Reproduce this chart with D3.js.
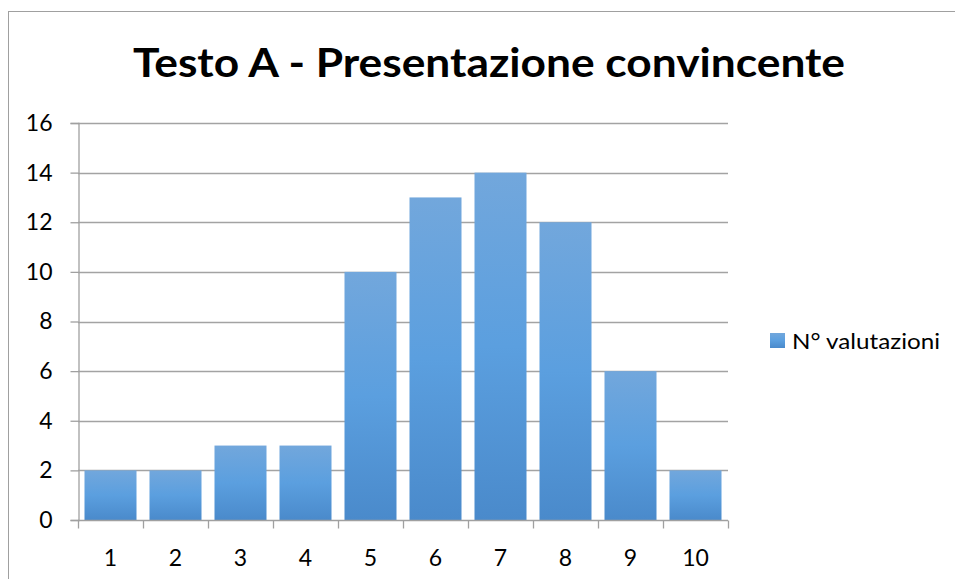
<!DOCTYPE html>
<html>
<head>
<meta charset="utf-8">
<script src="https://cdn.jsdelivr.net/npm/d3@7/dist/d3.min.js"></script>
<style>
  html, body { margin: 0; padding: 0; background: #fff; }
  svg { display: block; }
  text { font-family: Lato, "Open Sans", "Noto Sans", sans-serif; fill: #000; }
</style>
</head>
<body>
<svg id="chart" width="955" height="579"></svg>
<script>
// Rating scores and how many times each was given
const categories = ["1", "2", "3", "4", "5", "6", "7", "8", "9", "10"];
const counts = [2, 2, 3, 3, 10, 13, 14, 12, 6, 2];
const yTicks = [0, 2, 4, 6, 8, 10, 12, 14, 16];
const seriesName = "N° valutazioni";
const chartTitle = "Testo A - Presentazione convincente";

const svg = d3.select("#chart");
const W = 955, H = 579;
const plot = { left: 78, right: 728, top: 123, bottom: 520 };

// Outer chart frame
svg.append("rect")
  .attr("x", 8.5).attr("y", 11.5)
  .attr("width", W + 10).attr("height", H + 10)
  .attr("fill", "#fff").attr("stroke", "#a0a0a0").attr("stroke-width", 1);

// Bar fill gradient
const defs = svg.append("defs");
const grad = defs.append("linearGradient")
  .attr("id", "barGrad").attr("x1", 0).attr("y1", 0).attr("x2", 0).attr("y2", 1);
grad.append("stop").attr("offset", "0%").attr("stop-color", "#72a7dc");
grad.append("stop").attr("offset", "50%").attr("stop-color", "#5b9fdf");
grad.append("stop").attr("offset", "100%").attr("stop-color", "#4a8acb");

const x = d3.scaleBand()
  .domain(categories)
  .range([plot.left, plot.right])
  .paddingInner(0.2)
  .paddingOuter(0.1);

const y = d3.scaleLinear()
  .domain([0, 16])
  .range([plot.bottom, plot.top]);

// Horizontal gridlines
svg.append("g")
  .selectAll("line")
  .data(yTicks.filter(d => d > 0))
  .join("line")
  .attr("x1", plot.left).attr("x2", plot.right)
  .attr("y1", d => Math.round(y(d)) + 0.5)
  .attr("y2", d => Math.round(y(d)) + 0.5)
  .attr("stroke", "#a3a3a3").attr("stroke-width", 1.3);

// Bars
svg.append("g")
  .selectAll("rect")
  .data(counts)
  .join("rect")
  .attr("x", (d, i) => x(categories[i]))
  .attr("y", d => y(d))
  .attr("width", x.bandwidth())
  .attr("height", d => y(0) - y(d))
  .attr("fill", "url(#barGrad)");

// Y axis
const yAxis = svg.append("g")
  .attr("transform", `translate(${plot.left + 0.5},0)`)
  .call(d3.axisLeft(y).tickValues(yTicks).tickSize(8).tickPadding(18).tickFormat(d3.format("d")));
yAxis.attr("font-size", null).attr("font-family", null);
yAxis.select(".domain").attr("stroke", "#a0a0a0").attr("stroke-width", 1.3);
yAxis.selectAll(".tick line").attr("stroke", "#a0a0a0").attr("stroke-width", 1.3);
yAxis.selectAll(".tick text")
  .style("font-size", "23px").attr("fill", "#000");

// X axis: ticks at category boundaries, labels centred on bands
const xAxisG = svg.append("g").attr("transform", `translate(0,${plot.bottom + 0.5})`);
xAxisG.append("line")
  .attr("x1", plot.left).attr("x2", plot.right)
  .attr("stroke", "#a0a0a0").attr("stroke-width", 1.3);
const bounds = categories.map(c => x(c) - x.step() * x.paddingInner() / 2).concat([plot.right]);
bounds[0] = plot.left;
xAxisG.selectAll("line.tk")
  .data(bounds)
  .join("line")
  .attr("class", "tk")
  .attr("x1", d => Math.round(d) + 0.5).attr("x2", d => Math.round(d) + 0.5)
  .attr("y1", 0).attr("y2", 8)
  .attr("stroke", "#a0a0a0").attr("stroke-width", 1.3);
xAxisG.selectAll("text")
  .data(categories)
  .join("text")
  .attr("x", d => x(d) + x.bandwidth() / 2)
  .attr("y", 45)
  .attr("text-anchor", "middle")
  .style("font-size", "23px")
  .text(d => d);

// Title
svg.append("text")
  .attr("x", 133).attr("y", 77)
  .attr("font-size", 41)
  .attr("font-weight", "bold")
  .attr("textLength", 712)
  .attr("lengthAdjust", "spacingAndGlyphs")
  .text(chartTitle);

// Legend
const legend = svg.append("g").attr("transform", "translate(770,333)");
legend.append("rect")
  .attr("width", 15).attr("height", 15)
  .attr("fill", "url(#barGrad)");
legend.append("text")
  .attr("x", 22).attr("y", 16)
  .attr("font-size", 22)
  .attr("textLength", 148)
  .attr("lengthAdjust", "spacingAndGlyphs")
  .text(seriesName);
</script>
</body>
</html>
